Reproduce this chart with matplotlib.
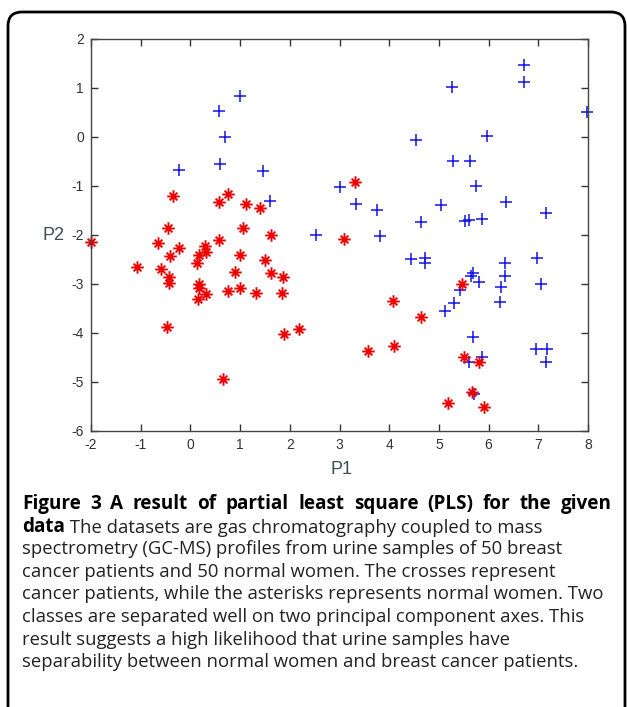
import matplotlib
matplotlib.use('Agg')
import matplotlib.pyplot as plt
from matplotlib.path import Path
from matplotlib.patches import FancyBboxPatch
from matplotlib.transforms import IdentityTransform

# ---------------- data ----------------
# crosses: cancer patients
cancer_p1 = [0.57, 1.00, 0.70, 0.60, -0.23, 1.46, 1.60, 2.52, 6.71, 6.71,
             5.27, 7.97, 4.53, 5.96, 5.29, 5.62, 5.75, 3.01, 3.34, 3.75,
             5.04, 6.36, 7.16, 4.63, 5.52, 5.61, 5.87, 3.81, 4.43, 4.73,
             4.73, 6.34, 6.98, 6.34, 5.65, 5.69, 5.80, 5.42, 6.25, 7.06,
             5.30, 6.22, 5.13, 5.68, 6.96, 7.17, 7.16, 5.87, 5.61, 5.71]
cancer_p2 = [0.54, 0.84, 0.00, -0.56, -0.67, -0.69, -1.31, -2.01, 1.46, 1.12,
             1.02, 0.51, -0.06, 0.03, -0.50, -0.48, -0.99, -1.02, -1.37, -1.48,
             -1.39, -1.32, -1.56, -1.74, -1.72, -1.69, -1.67, -2.03, -2.49, -2.46,
             -2.58, -2.57, -2.46, -2.84, -2.83, -2.78, -2.95, -3.12, -3.07, -2.99,
             -3.39, -3.37, -3.56, -4.08, -4.33, -4.33, -4.60, -4.48, -4.60, -5.25]

# asterisks: normal women
normal_p1 = [-0.36, 0.57, 0.76, 1.12, 1.41, -0.45, 1.06, 1.62, -2.00, -0.65,
             -0.22, 0.29, 0.32, 0.57, -0.42, 0.17, 1.00, 1.51, 0.13, -1.08,
             -0.59, 0.90, 1.62, 1.86, -0.44, -0.44, 0.17, 0.17, 0.76, 1.00,
             0.31, 1.32, 1.84, 0.15, -0.47, 2.19, 1.88, 0.66,
             3.32, 3.10, 5.47, 4.08, 4.64, 3.57, 4.10, 5.51, 5.80, 5.66, 5.18, 5.91]
normal_p2 = [-1.20, -1.32, -1.17, -1.37, -1.44, -1.86, -1.86, -2.00, -2.15, -2.17,
             -2.27, -2.23, -2.35, -2.10, -2.42, -2.40, -2.40, -2.52, -2.58, -2.65,
             -2.69, -2.76, -2.78, -2.86, -2.85, -2.97, -3.01, -3.08, -3.14, -3.09,
             -3.20, -3.19, -3.18, -3.31, -3.88, -3.91, -4.03, -4.93,
             -0.91, -2.08, -2.99, -3.35, -3.67, -4.36, -4.26, -4.49, -4.59, -5.20, -5.43, -5.52]

x_ticks = [-2, -1, 0, 1, 2, 3, 4, 5, 6, 7, 8]
y_ticks = [-6, -5, -4, -3, -2, -1, 0, 1, 2]
x_label = "P1"
y_label = "P2"

caption_title = "Figure 3 A result of partial least square (PLS) for the given"
caption_bold2 = "data"
caption_rest2 = " The datasets are gas chromatography coupled to mass"
caption_lines = [
    "spectrometry (GC-MS) profiles from urine samples of 50 breast",
    "cancer patients and 50 normal women. The crosses represent",
    "cancer patients, while the asterisks represents normal women. Two",
    "classes are separated well on two principal component axes. This",
    "result suggests a high likelihood that urine samples have",
    "separability between normal women and breast cancer patients.",
]

# ---------------- figure ----------------
W, H = 627, 707
fig = plt.figure(figsize=(W / 100, H / 100), dpi=100)
fig.patch.set_facecolor('white')

# rounded border (pixel coordinates)
border = FancyBboxPatch((8, -40), 617, 735,
                        boxstyle="round,pad=0,rounding_size=14",
                        transform=IdentityTransform(), fill=False,
                        edgecolor='black', linewidth=2.0)
fig.add_artist(border)

ax = fig.add_axes([91 / W, 1 - 431 / H, (588 - 91) / W, (431 - 39) / H])

ax.plot(cancer_p1, cancer_p2, linestyle='none', marker='+', markersize=9,
        markeredgewidth=1.1, color='#1414e6', clip_on=False)

ast = Path([(0, -1), (0, 1), (-1, 0), (1, 0),
            (-0.62, -0.62), (0.62, 0.62), (-0.62, 0.62), (0.62, -0.62)],
           [Path.MOVETO, Path.LINETO] * 4)
ax.plot(normal_p1, normal_p2, linestyle='none', marker=ast, markersize=9,
        markeredgewidth=1.4, markeredgecolor='#f00000', markerfacecolor='none',
        clip_on=False)

ax.set_xlim(-2, 8)
ax.set_ylim(-6, 2)
ax.set_xticks(x_ticks)
ax.set_yticks(y_ticks)
ax.set_xticklabels([str(v) for v in x_ticks])
ax.set_yticklabels([str(v) for v in y_ticks])
ax.tick_params(direction='in', length=5, width=1, top=True, right=True,
               labelsize=10, labelcolor='#333333', color='#333333', pad=5)
for lab in ax.get_xticklabels() + ax.get_yticklabels():
    lab.set_family('Liberation Sans')
for sp in ax.spines.values():
    sp.set_color('#444444')
    sp.set_linewidth(1.0)

# axis labels placed as in the reference
fig.text(54 / W, 1 - 236 / H, y_label, fontsize=13, color='#3f4f4f',
         ha='center', va='center', family='Liberation Sans')
fig.text(341 / W, 1 - 469 / H, x_label, fontsize=13, color='#3f4f4f',
         ha='center', va='center', family='Liberation Sans')

# caption
cap_font = 'Open Sans'
cap_size = 13.3
x_left, x_right = 22, 612
base0 = 509
step = 22.6

# justified bold title line
renderer = fig.canvas.get_renderer()
words = caption_title.split(' ')
wtexts = [fig.text(0, 0, w, fontsize=cap_size + 0.3, fontweight='bold', family=cap_font,
                   color='black', ha='left', va='baseline') for w in words]
widths = [t.get_window_extent(renderer).width for t in wtexts]
gap = (x_right - x_left - sum(widths)) / (len(words) - 1)
xpos = x_left
for t, w in zip(wtexts, widths):
    t.set_position((xpos / W, 1 - base0 / H))
    xpos += w + gap

t2 = fig.text(x_left / W, 1 - (base0 + step) / H, caption_bold2, fontsize=cap_size + 0.3,
              fontweight='bold', family=cap_font, color='black',
              ha='left', va='baseline')
ax.annotate(caption_rest2, xy=(1, 0), xycoords=t2, xytext=(0, 0),
            textcoords='offset points', fontsize=cap_size, family=cap_font,
            color='#222222', ha='left', va='bottom', annotation_clip=False)
for i, line in enumerate(caption_lines):
    fig.text(x_left / W, 1 - (base0 + step * (i + 2)) / H, line, fontsize=cap_size,
             family=cap_font, color='#222222', ha='left', va='baseline')

fig.savefig('out.png', dpi=100, facecolor='white')
